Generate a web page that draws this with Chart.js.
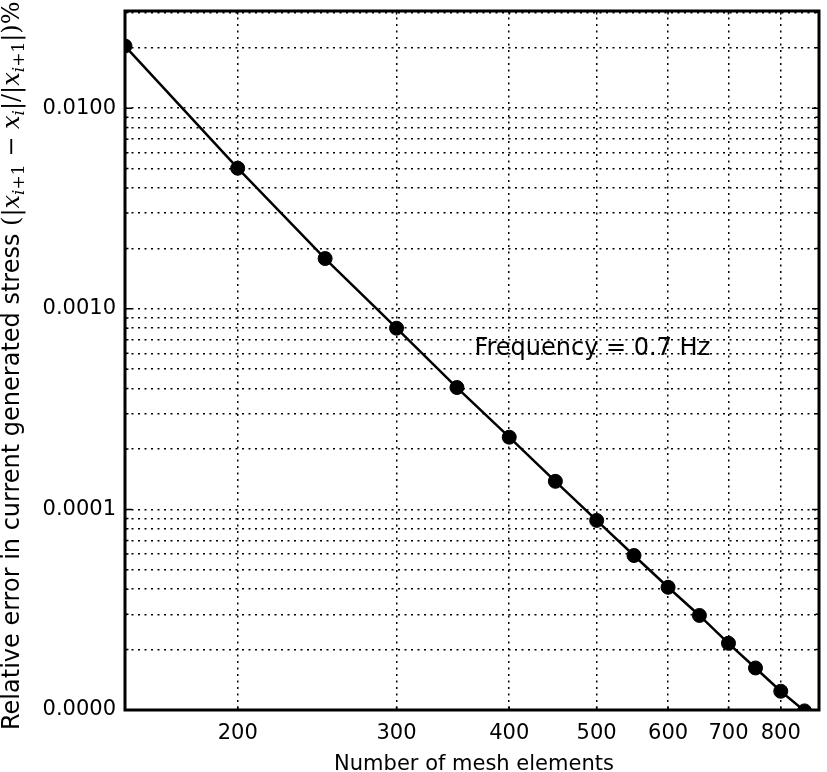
<!DOCTYPE html>
<html>
<head>
<meta charset="utf-8">
<title>Relative error vs number of mesh elements</title>
<script src="https://cdn.jsdelivr.net/npm/chart.js@4.4.1/dist/chart.umd.min.js"></script>
<style>
  html, body { margin: 0; padding: 0; background: #fff; }
</style>
</head>
<body>
<canvas id="errorChart" width="827" height="772"></canvas>
<script>
// values (log-log)
const meshElements = [150, 200, 250, 300, 350, 400, 450, 500, 550, 600, 650, 700, 750, 800, 850];
const relativeError = [0.0204, 0.00502, 0.00178, 0.000800, 0.000405, 0.000229, 0.000138,
                       0.0000881, 0.0000589, 0.0000409, 0.0000296, 0.0000215, 0.0000162, 0.0000124, 0.0000099];

const xTicks = [200, 300, 400, 500, 600, 700, 800];
const xTickLabels = ['200', '300', '400', '500', '600', '700', '800'];
const yLabelTicks = [0.00001, 0.0001, 0.001, 0.01];
const yTickLabels = ['0.0000', '0.0001', '0.0010', '0.0100'];
const yGridTicks = [
    0.00001, 0.00002, 0.00003, 0.00004, 0.00005, 0.00006, 0.00007, 0.00008, 0.00009,
    0.0001, 0.0002, 0.0003, 0.0004, 0.0005, 0.0006, 0.0007, 0.0008, 0.0009,
    0.001, 0.002, 0.003, 0.004, 0.005, 0.006, 0.007, 0.008, 0.009,
    0.01, 0.02, 0.03
];

const xTitle = 'Number of mesh elements';
const noteText = 'Frequency = 0.7 Hz';
const notePos = { x: 366, y: 0.00059 };

// y title is part text, part math: [text, style]
const yTitleParts = [
    ['Relative error in current generated stress ', 'sans'],
    ['(|', 'rm'], ['x', 'it'], ['i', 'subit'], ['+1', 'sub'],
    [' \u2212 ', 'rm'], ['x', 'it'], ['i', 'subit'],
    ['|/|', 'rm'], ['x', 'it'], ['i', 'subit'], ['+1', 'sub'],
    ['|)%', 'rm']
];
const partFonts = {
    sans: ['24px "DejaVu Sans"', 0],
    rm: ['24px "DejaVu Serif"', 0],
    it: ['italic 24px "DejaVu Serif"', 0],
    sub: ['17px "DejaVu Serif"', 5],
    subit: ['italic 17px "DejaVu Serif"', 5]
};

const points = meshElements.map((m, i) => ({ x: m, y: relativeError[i] }));

// frame, inward ticks, titles and the note
const decorations = {
    id: 'decorations',
    afterDraw(chart) {
        const ctx = chart.ctx;
        const a = chart.chartArea;
        const xs = chart.scales.x;
        const ys = chart.scales.y;
        ctx.save();
        ctx.strokeStyle = '#000';

        ctx.lineWidth = 1.5;
        ctx.beginPath();
        yGridTicks.forEach(v => {
            const py = ys.getPixelForValue(v);
            const len = yLabelTicks.includes(v) ? 7 : 3.5;
            ctx.moveTo(a.left, py); ctx.lineTo(a.left + len, py);
            ctx.moveTo(a.right, py); ctx.lineTo(a.right - len, py);
        });
        xTicks.forEach(v => {
            const px = xs.getPixelForValue(v);
            ctx.moveTo(px, a.bottom); ctx.lineTo(px, a.bottom - 3.5);
            ctx.moveTo(px, a.top); ctx.lineTo(px, a.top + 3.5);
        });
        ctx.stroke();

        ctx.lineWidth = 3;
        ctx.strokeRect(a.left, a.top, a.right - a.left, a.bottom - a.top);

        ctx.fillStyle = '#000';
        ctx.textBaseline = 'alphabetic';
        ctx.textAlign = 'left';
        ctx.font = '24px "DejaVu Sans"';
        ctx.fillText(noteText, xs.getPixelForValue(notePos.x), ys.getPixelForValue(notePos.y));

        ctx.font = '21px "DejaVu Sans"';
        ctx.textAlign = 'center';
        ctx.fillText(xTitle, (a.left + a.right) / 2 + 2, 770);

        ctx.translate(19, 730);
        ctx.rotate(-Math.PI / 2);
        ctx.textAlign = 'left';
        let pos = 0;
        yTitleParts.forEach(([txt, style]) => {
            const [font, shift] = partFonts[style];
            ctx.font = font;
            ctx.fillText(txt, pos, shift);
            pos += ctx.measureText(txt).width;
        });
        ctx.restore();
    }
};

new Chart(document.getElementById('errorChart'), {
    type: 'line',
    data: {
        datasets: [{
            data: points,
            borderColor: '#000',
            borderWidth: 2.5,
            backgroundColor: '#000',
            pointRadius: 7,
            pointBorderWidth: 1,
            pointBorderColor: '#000',
            pointBackgroundColor: '#000',
            tension: 0,
            fill: false
        }]
    },
    options: {
        responsive: false,
        animation: false,
        devicePixelRatio: 1,
        layout: { padding: { top: 11, right: 5, left: 0, bottom: 0 } },
        plugins: {
            legend: { display: false },
            tooltip: { enabled: false }
        },
        scales: {
            x: {
                type: 'logarithmic',
                min: 150,
                max: 882,
                afterFit: s => { s.height = 62; s.paddingLeft = 0; s.paddingRight = 0; },
                afterBuildTicks: s => { s.ticks = xTicks.map(v => ({ value: v })); },
                ticks: {
                    autoSkip: false,
                    maxRotation: 0,
                    padding: 11,
                    color: '#000',
                    font: { family: 'DejaVu Sans', size: 21 },
                    callback: v => {
                        const i = xTicks.indexOf(v);
                        return i >= 0 ? xTickLabels[i] : '';
                    }
                },
                grid: { color: '#000', lineWidth: 1.5, drawTicks: false },
                border: { display: false, dash: [2, 4.5] }
            },
            y: {
                type: 'logarithmic',
                min: 0.00001,
                max: 0.0305,
                afterFit: s => { s.width = 125; s.paddingTop = 0; s.paddingBottom = 0; },
                afterBuildTicks: s => { s.ticks = yGridTicks.map(v => ({ value: v })); },
                ticks: {
                    autoSkip: false,
                    padding: 9,
                    color: '#000',
                    font: { family: 'DejaVu Sans', size: 21 },
                    callback: v => {
                        const i = yLabelTicks.findIndex(t => Math.abs(t - v) / t < 1e-6);
                        return i >= 0 ? yTickLabels[i] : '';
                    }
                },
                grid: { color: '#000', lineWidth: 1.5, drawTicks: false },
                border: { display: false, dash: [2, 4.5] }
            }
        }
    },
    plugins: [decorations]
});
</script>
</body>
</html>
